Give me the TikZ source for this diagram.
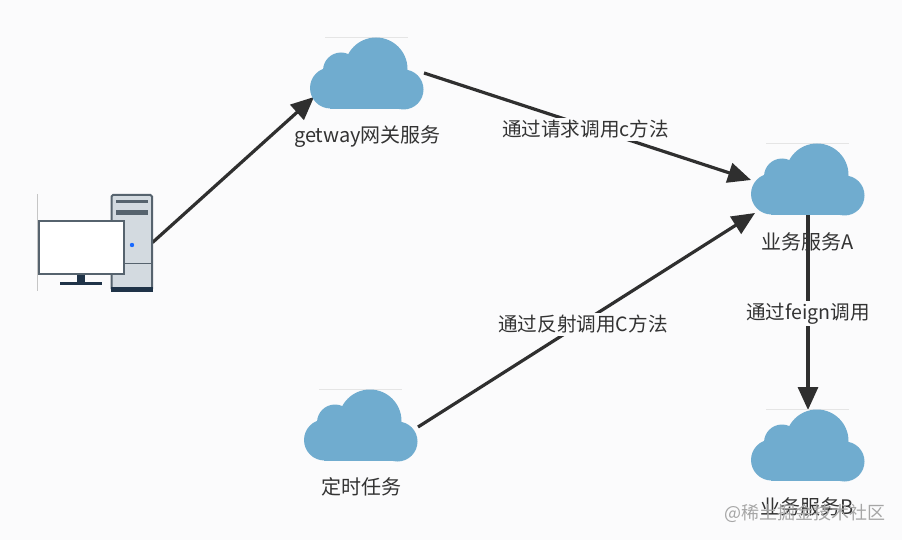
\documentclass[tikz,border=0pt]{standalone}
\usepackage{fontspec}
\setmainfont{Noto Sans CJK SC}
\usetikzlibrary{arrows.meta,calc}
\definecolor{bgc}{HTML}{FBFBFC}
\definecolor{cloudc}{HTML}{70ACCF}
\definecolor{inkc}{HTML}{2F2F2F}
\definecolor{textc}{HTML}{333333}
\definecolor{steelc}{HTML}{56636E}
\definecolor{navyc}{HTML}{1F3348}
\definecolor{towerc}{HTML}{D3DAE0}
\tikzset{
  x=1pt,y=-1pt,
  cloudbox/.style={minimum width=114pt,minimum height=71pt,inner sep=0pt,outer sep=0pt,anchor=north west},
  lbl/.style={font=\fontsize{20pt}{23pt}\selectfont,text=textc,inner sep=0pt},
  edgelbl/.style={lbl,font=\fontsize{19.6pt}{23pt}\selectfont,fill=bgc,inner xsep=1pt,inner ysep=2pt},
  conn/.style={draw=inkc,line width=3.2pt,-{Triangle[length=23pt,width=20pt]}},
  pcpart/.style={draw=steelc,line width=2pt},
  darkbar/.style={fill=navyc,draw=none},
  watermark/.style={font=\fontsize{18pt}{20pt}\selectfont,text=gray!70,inner sep=0pt,anchor=east},
}
\newcommand{\cloudart}[1]{%
  \begin{scope}[shift={(#1.north west)}]
    \draw[gray!20,line width=0.6pt] (15,-1) -- (98,-1);
    \fill[cloudc] (20.5,50) circle[radius=20.5];
    \fill[cloudc] (93.5,51.5) circle[radius=20];
    \fill[cloudc] (66,31) circle[radius=31.5];
    \fill[cloudc] (31,32.5) circle[radius=18];
    \fill[cloudc] (20,45) rectangle (94,71);
    \fill[cloudc] (22,30) rectangle (90,60);
  \end{scope}}
\begin{document}
\begin{tikzpicture}
\useasboundingbox (0,0) rectangle (902,540);
\fill[bgc] (0,0) rectangle (902,540);
% nodes
\node[cloudbox] (gw) at (310,38) {};
\node[cloudbox] (svca) at (751,144) {};
\node[cloudbox] (svcb) at (751,410) {};
\node[cloudbox] (timer) at (304,390) {};
\node[inner sep=0pt,outer sep=0pt,minimum width=41pt,minimum height=96pt,anchor=north west] (tower) at (111,194.5) {};
% connectors
\draw[conn] ([shift={(0.5,0)}]tower.east) -- ([shift={(4,59)}]gw.north west);
\draw[conn] ([shift={(0,35)}]gw.north east) -- ([shift={(0,36)}]svca.north west);
\draw[conn] ([shift={(0,37)}]timer.north east) -- ([shift={(4,69)}]svca.north west);
\draw[conn] ([shift={(57,70)}]svca.north west) -- (svcb.north -| svca.south);
% clouds
\cloudart{gw}
\cloudart{svca}
\cloudart{svcb}
\cloudart{timer}
% computer
\draw[gray!45,line width=0.7pt] (37.5,194) -- (37.5,291);
\filldraw[pcpart,fill=towerc,rounded corners=1.5pt] (111.5,195) rectangle (152,290);
\fill[darkbar] (110.5,286.5) rectangle (153,291.5);
\fill[steelc] (115.5,200) rectangle (148,203.5);
\fill[steelc] (116,210.5) rectangle (148,215.5);
\draw[steelc,line width=1.2pt] (111,263.5) -- (152,263.5);
\fill[blue!65!cyan!90!white] (132,245) circle[radius=2.2];
\fill[navyc] (77,274) rectangle (85,282);
\fill[navyc] (60,281.5) rectangle (102,284.5);
\filldraw[pcpart,fill=white] (38.5,221) rectangle (124,274);
% labels
\node[edgelbl] (la) at (585.5,129.5) {通过请求调用c方法};
\node[edgelbl] (lb) at (583,324.5) {通过反射调用C方法};
\node[edgelbl] (lc) at (808,313.5) {通过feign调用};
\node[lbl] (t1) at (367.5,136.5) {getway网关服务};
\node[lbl] (t2) at (807.5,241.5) {业务服务A};
\node[lbl] (t3) at (361,487) {定时任务};
\node[lbl] (t4) at (807.5,507) {业务服务B};
\node[watermark] (wm) at (885.5,513) {@稀土掘金技术社区};
\end{tikzpicture}
\end{document}
